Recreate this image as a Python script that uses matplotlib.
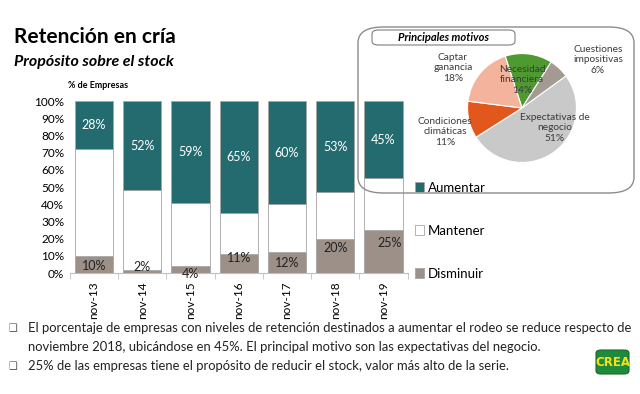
import matplotlib.pyplot as plt
from matplotlib.patches import FancyBboxPatch

# datos
meses = ["nov-13", "nov-14", "nov-15", "nov-16", "nov-17", "nov-18", "nov-19"]
aumentar = [28, 52, 59, 65, 60, 53, 45]
disminuir = [10, 2, 4, 11, 12, 20, 25]
mantener = [100 - a - d for a, d in zip(aumentar, disminuir)]

motivos = ["Necesidad\nfinanciera", "Cuestiones\nimpositivas", "Expectativas de\nnegocio",
           "Condiciones\nclimáticas", "Captar\nganancia"]
motivos_pct = [14, 6, 51, 11, 18]

TEAL = "#236b6e"
GRIS = "#9c9088"
plt.rcParams["font.family"] = ["Lato", "DejaVu Sans"]

fig = plt.figure(figsize=(6.4, 3.94), dpi=100)

# barras apiladas
ax = fig.add_axes([0.109, 0.307, 0.528, 0.4365])
x = range(len(meses))
frac = lambda v: [i / 100 for i in v]
b_dis = ax.bar(x, frac(disminuir), 0.79, color=GRIS, edgecolor="#a6a6a6", lw=0.6, label="Disminuir")
b_man = ax.bar(x, frac(mantener), 0.79, bottom=frac(disminuir), color="white",
               edgecolor="#a6a6a6", lw=0.6, label="Mantener")
b_aum = ax.bar(x, frac(aumentar), 0.79, bottom=[1 - a / 100 for a in aumentar],
               color=TEAL, edgecolor="#a6a6a6", lw=0.6, label="Aumentar")

for i, a in enumerate(aumentar):
    ax.text(i, 1 - a / 200, f"{a}%", ha="center", va="center", color="white", fontsize=9)
# posicion vertical de las etiquetas de Disminuir (como en el original)
dis_y = [0.042, 0.037, -0.005, 0.087, 0.058, 0.145, 0.175]
dis_dx = [0, 0, 0, 0, 0, 0, 0.12]
for i, d in enumerate(disminuir):
    ax.text(i + dis_dx[i], dis_y[i], f"{d}%", ha="center", va="center", color="#222222", fontsize=9)

ax.set_xlim(-0.5, len(meses) - 0.5)
ax.set_ylim(0, 1)
ax.set_yticks([i / 10 for i in range(11)])
ax.set_yticklabels([f"{i * 10}%" for i in range(11)], fontsize=8.5)
ax.set_xticks(list(x))
ax.set_xticklabels(meses, rotation=90, fontsize=8.5)
ax.set_xticks([i - 0.5 for i in range(len(meses) + 1)], minor=True)
ax.tick_params(axis="x", which="major", length=0, pad=6)
ax.tick_params(axis="x", which="minor", length=4, color="#bfbfbf")
ax.tick_params(axis="y", length=0, pad=4)
for s in ["top", "right", "left"]:
    ax.spines[s].set_visible(False)
ax.spines["bottom"].set_color("#bfbfbf")

fig.legend(handles=[b_aum, b_man, b_dis], loc="upper left", bbox_to_anchor=(408 / 640, 1 - 175 / 394),
           frameon=False, fontsize=9.5, handlelength=0.7, handleheight=0.7, handletextpad=0.3,
           labelspacing=2.35, borderpad=0)

# titulos
fig.text(14 / 640, 1 - 37 / 394, "Retención en cría", fontsize=15, fontweight="bold", va="center")
fig.text(14 / 640, 1 - 62 / 394, "Propósito sobre el stock", fontsize=11.5, fontweight="bold",
         style="italic", va="center")
fig.text(68 / 640, 1 - 86 / 394, "% de Empresas", fontsize=6.5, fontweight="bold", va="center")

# recuadro con torta
fig.patches.append(FancyBboxPatch((358 / 640, 1 - 193 / 394), 276 / 640, 166 / 394,
                                  boxstyle="round,pad=0,rounding_size=0.04", transform=fig.transFigure,
                                  facecolor="none", edgecolor="#8c8c8c", lw=1.0, zorder=5))
fig.patches.append(FancyBboxPatch((372 / 640, 1 - 45 / 394), 143 / 640, 15 / 394,
                                  boxstyle="round,pad=0,rounding_size=0.01", transform=fig.transFigure,
                                  facecolor="white", edgecolor="#7f7f7f", lw=0.8, zorder=5))
fig.text(443 / 640, 1 - 37.5 / 394, "Principales motivos", fontsize=8, fontweight="bold",
         style="italic", ha="center", va="center", zorder=6)

pax = fig.add_axes([467 / 640, 1 - 163 / 394, 110 / 640, 110 / 394])
colores = ["#4f9a30", "#a39a91", "#c9c9c9", "#e2571c", "#f3b39c"]
pax.pie(motivos_pct, colors=colores, startangle=108, counterclock=False,
        wedgeprops=dict(edgecolor="white", linewidth=0.8))
pax.set_xlim(-1.01, 1.01)
pax.set_ylim(-1.01, 1.01)
pax.set_aspect("equal")

lab_pos = [(522, 80), (598, 60), (555, 128), (445, 132), (453, 68)]
for (px, py), m, p in zip(lab_pos, motivos, motivos_pct):
    fig.text(px / 640, 1 - py / 394, f"{m}\n{p}%", fontsize=7.3, ha="center", va="center",
             color="#3a3a3a", linespacing=1.25)

# texto inferior
bul = [(328, "El porcentaje de empresas con niveles de retención destinados a aumentar el rodeo se reduce respecto de"),
       (366, "25% de las empresas tiene el propósito de reducir el stock, valor más alto de la serie.")]
for py, t in bul:
    fig.text(8 / 640, 1 - py / 394, "❑", fontsize=7, va="center", family="DejaVu Sans", color="#555555")
    fig.text(28 / 640, 1 - py / 394, t, fontsize=9.4, va="center", color="#222222")
fig.text(28 / 640, 1 - 347 / 394, "noviembre 2018, ubicándose en 45%. El principal motivo son las expectativas del negocio.",
         fontsize=9.4, va="center", color="#222222")

# logo
fig.patches.append(FancyBboxPatch((596 / 640, 1 - 374 / 394), 33 / 640, 24 / 394,
                                  boxstyle="round,pad=0,rounding_size=0.008", transform=fig.transFigure,
                                  facecolor="#1f8a3a", edgecolor="#146b2a", lw=0.8))
fig.text(612.5 / 640, 1 - 362 / 394, "CREA", fontsize=8.5, fontweight="heavy", color="#f5e11a",
         ha="center", va="center", family="DejaVu Sans")

fig.savefig("out.png", dpi=100)
